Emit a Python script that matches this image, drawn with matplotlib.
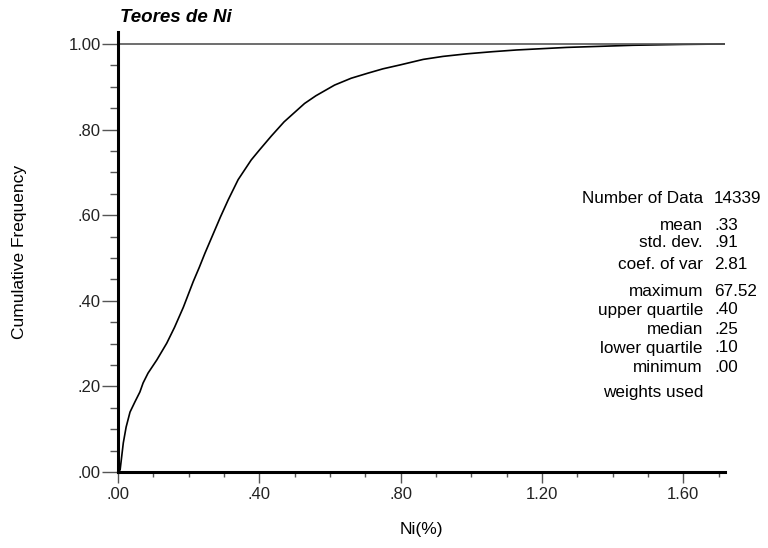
import matplotlib
matplotlib.use("Agg")
import matplotlib.pyplot as plt
from matplotlib.ticker import MultipleLocator, FuncFormatter

plt.rcParams['font.family'] = ['Liberation Sans', 'DejaVu Sans']

# curva de frequência acumulada
ni = [0.0, 0.006, 0.015, 0.023, 0.034, 0.048, 0.062, 0.071, 0.085, 0.11, 0.138,
      0.16, 0.185, 0.213, 0.23, 0.246, 0.275, 0.29, 0.312, 0.34, 0.377, 0.40,
      0.434, 0.47, 0.528, 0.56, 0.613, 0.66, 0.708, 0.75, 0.798, 0.864, 0.92,
      0.987, 1.06, 1.128, 1.27, 1.458, 1.6, 1.72]
freq = [0.0, 0.005, 0.068, 0.105, 0.14, 0.164, 0.187, 0.208, 0.231, 0.262, 0.301,
        0.338, 0.385, 0.445, 0.478, 0.511, 0.567, 0.596, 0.636, 0.683, 0.729, 0.752,
        0.785, 0.818, 0.861, 0.879, 0.904, 0.92, 0.932, 0.942, 0.951, 0.964, 0.971,
        0.977, 0.982, 0.986, 0.992, 0.997, 0.999, 1.0]

# estatísticas
stat_names = ['Number of Data', 'mean', 'std. dev.', 'coef. of var', 'maximum',
              'upper quartile', 'median', 'lower quartile', 'minimum', 'weights used']
stat_values = ['14339', '.33', '.91', '2.81', '67.52', '.40', '.25', '.10', '.00', '']
stat_rows_px = [198, 225, 243, 264, 292, 310, 329, 348, 368, 393]

W, H = 768, 548
fig = plt.figure(figsize=(W / 100, H / 100), dpi=100)
ax = fig.add_axes([118 / W, 1 - 472 / H, (725 - 118) / W, (472 - 32) / H])

ax.plot(ni, freq, color='black', lw=1.2, solid_joinstyle='round')
ax.axhline(1.0, color='#555555', lw=1.2)

ax.set_xlim(0, 1.718)
ax.set_ylim(0, 1.028)

def fmt(v, pos):
    s = '%.2f' % v
    return s[1:] if s.startswith('0') else s

ax.xaxis.set_major_locator(MultipleLocator(0.4))
ax.xaxis.set_minor_locator(MultipleLocator(0.1))
ax.yaxis.set_major_locator(MultipleLocator(0.2))
ax.yaxis.set_minor_locator(MultipleLocator(0.05))
ax.xaxis.set_major_formatter(FuncFormatter(fmt))
ax.yaxis.set_major_formatter(FuncFormatter(fmt))

ax.tick_params(axis='y', which='major', length=11.5, width=1, color='#555555',
               labelsize=12, pad=1, labelcolor='#222222')
ax.tick_params(axis='y', which='minor', length=5.8, width=1, color='#555555')
ax.tick_params(axis='x', which='major', length=8, width=1, color='#555555',
               labelsize=12, pad=3, labelcolor='#222222')
ax.tick_params(axis='x', which='minor', length=3.6, width=1, color='#555555')

for s in ['top', 'right']:
    ax.spines[s].set_visible(False)
for s in ['left', 'bottom']:
    ax.spines[s].set_linewidth(2.2)
    ax.spines[s].set_color('black')

ax.set_xlabel('Ni(%)', fontsize=12.5, labelpad=14)
fig.text(20 / W, 1 - 252 / H, 'Cumulative Frequency', rotation=90,
         fontsize=12.5, ha='center', va='center')
fig.text(120 / W, 1 - 18 / H, 'Teores de Ni', fontsize=13.5, fontweight='bold',
         fontstyle='italic', ha='left', va='center')

for name, val, py in zip(stat_names, stat_values, stat_rows_px):
    fig.text(703 / W, 1 - py / H, name, fontsize=12.3, ha='right', va='center')
    fig.text(714 / W, 1 - py / H, val, fontsize=12.3, ha='left', va='center')

fig.savefig('out.png', dpi=100)
